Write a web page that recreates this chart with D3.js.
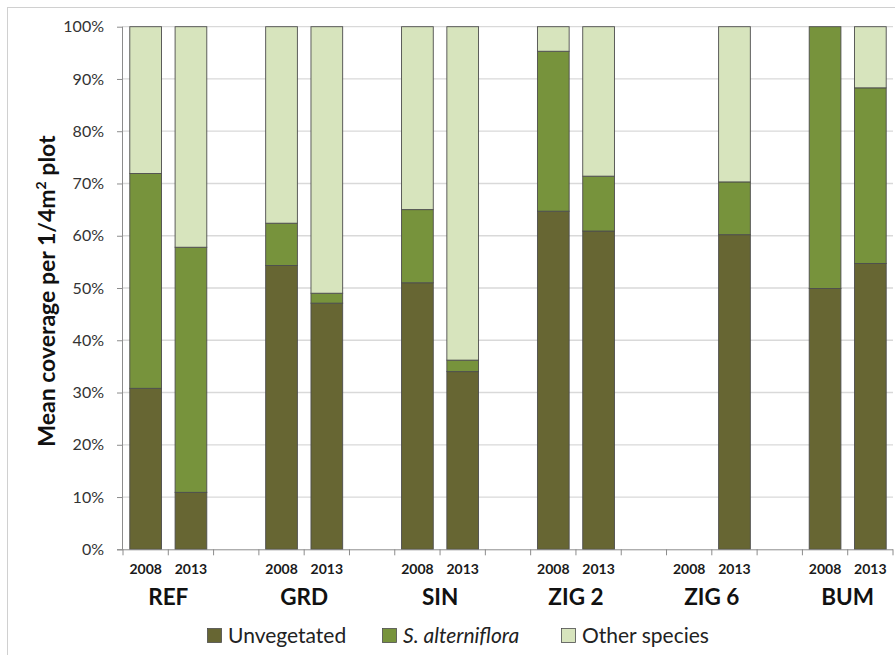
<!DOCTYPE html>
<html><head><meta charset="utf-8">
<script src="https://cdn.jsdelivr.net/npm/d3@7"></script>
<style>body{margin:0;background:#fff;} svg{display:block;font-family:Lato,"Open Sans",sans-serif;}</style>
</head><body>
<svg id="c" width="895" height="655"></svg>
<script>
const sites = ["REF","GRD","SIN","ZIG 2","ZIG 6","BUM"];
const years = ["2008","2013"];
const seriesNames = ["Unvegetated","S. alterniflora","Other species"];
// values in % for each site-year, order: REF08, REF13, GRD08, GRD13, SIN08, SIN13, ZIG2_08, ZIG2_13, ZIG6_08, ZIG6_13, BUM08, BUM13
const unvegetated = [30.8, 10.9, 54.3, 47.1, 51.0, 34.0, 64.7, 60.9, 0, 60.2, 49.9, 54.7];
const alterniflora = [41.1, 46.9, 8.1, 1.9, 14.0, 2.2, 30.6, 10.5, 0, 10.1, 50.1, 33.6];
const otherSpecies = [28.1, 42.2, 37.6, 51.0, 35.0, 63.8, 4.7, 28.6, 0, 29.7, 0, 11.7];
const yTicks = [0,10,20,30,40,50,60,70,80,90,100];
const colors = ["#676633","#77933c","#d7e4bd"];

const svg = d3.select("#c");
const m = {left:123, right:893, top:26.7, bottom:549.3};

// frame
svg.append("rect").attr("x",7.5).attr("y",7.5).attr("width",900).attr("height",700)
  .attr("fill","none").attr("stroke","#d0d0d0");

// slots: site-year slots separated by gap slots
const slots = [];
sites.forEach((s,i)=>{ years.forEach(y=>slots.push(s+"|"+y)); if(i<sites.length-1) slots.push("gap"+i); });
const x = d3.scaleBand().domain(slots).range([m.left,m.right]).paddingInner(0).paddingOuter(0);
const y = d3.scaleLinear().domain([0,100]).range([m.bottom,m.top]);

// gridlines
svg.append("g").selectAll("line").data(yTicks.filter(d=>d>0)).join("line")
  .attr("x1",m.left).attr("x2",m.right).attr("y1",d=>y(d)).attr("y2",d=>y(d))
  .attr("stroke","#d9d9d9").attr("stroke-width",1.3);

// y axis
const ya = svg.append("g").attr("transform",`translate(${m.left},0)`)
  .call(d3.axisLeft(y).tickValues(yTicks).tickFormat(d=>d+"%").tickSize(6).tickPadding(13));
ya.select(".domain").attr("stroke","#8c8c8c").attr("d",`M-0.5,${m.top}V${m.bottom}`);
ya.selectAll(".tick line").attr("stroke","#8c8c8c");
ya.selectAll("text").attr("font-family","Lato,sans-serif").attr("font-size",16).attr("fill","#333");

// stacked data
const rows = [];
let k=0;
sites.forEach(s=>years.forEach(yr=>{ rows.push({key:s+"|"+yr, site:s, year:yr, u:unvegetated[k], a:alterniflora[k], o:otherSpecies[k]}); k++; }));
const stack = d3.stack().keys(["u","a","o"])(rows);
const bw = x.bandwidth()*0.7;
svg.append("g").selectAll("g").data(stack).join("g").attr("fill",(d,i)=>colors[i])
  .selectAll("rect").data(d=>d.filter(p=>p[1]-p[0]>0)).join("rect")
  .attr("x",d=>x(d.data.key)+(x.bandwidth()-bw)/2).attr("width",bw)
  .attr("y",d=>y(d[1])).attr("height",d=>y(d[0])-y(d[1]))
  .attr("stroke","#4d4d4d").attr("stroke-width",0.9);

// x axis line and ticks at slot boundaries
svg.append("line").attr("x1",m.left-6).attr("x2",m.right).attr("y1",m.bottom+0.5).attr("y2",m.bottom+0.5).attr("stroke","#8c8c8c");
const bounds = slots.map(s=>x(s)).concat([m.right]);
svg.append("g").selectAll("line").data(bounds).join("line")
  .attr("x1",d=>d).attr("x2",d=>d).attr("y1",m.bottom).attr("y2",m.bottom+6).attr("stroke","#8c8c8c");

// year labels
svg.append("g").selectAll("text").data(rows).join("text")
  .attr("x",d=>x(d.key)+x.bandwidth()/2).attr("y",574).attr("text-anchor","middle")
  .attr("font-size",14).attr("font-weight","bold").attr("fill","#1a1a1a").text(d=>d.year);
// site labels
svg.append("g").selectAll("text").data(sites).join("text")
  .attr("x",s=>x(s+"|2013")).attr("y",605).attr("text-anchor","middle")
  .attr("font-size",22.5).attr("font-weight","bold").attr("fill","#111").text(s=>s);

// y title
const yt = svg.append("text").attr("transform","translate(54.5,291) rotate(-90)").attr("text-anchor","middle")
  .attr("font-size",23).attr("font-weight","bold").attr("fill","#111");
yt.append("tspan").text("Mean coverage per 1/4m");
yt.append("tspan").attr("font-size",14).attr("dy",-9).text("2");
yt.append("tspan").attr("dy",9).text(" plot");

// legend
const legX = [207, 382, 561];
const lg = svg.append("g").selectAll("g").data(seriesNames).join("g")
  .attr("transform",(d,i)=>`translate(${legX[i]},628)`);
lg.append("rect").attr("x",0.5).attr("y",0.5).attr("width",14).attr("height",14).attr("fill",(d,i)=>colors[i]).attr("stroke","#4d4d4d").attr("stroke-width",0.8);
lg.append("text").attr("x",21).attr("y",15).attr("font-size",21).attr("fill","#222")
  .attr("font-style",(d,i)=>i===1?"italic":"normal").text(d=>d);
</script>
</body></html>
